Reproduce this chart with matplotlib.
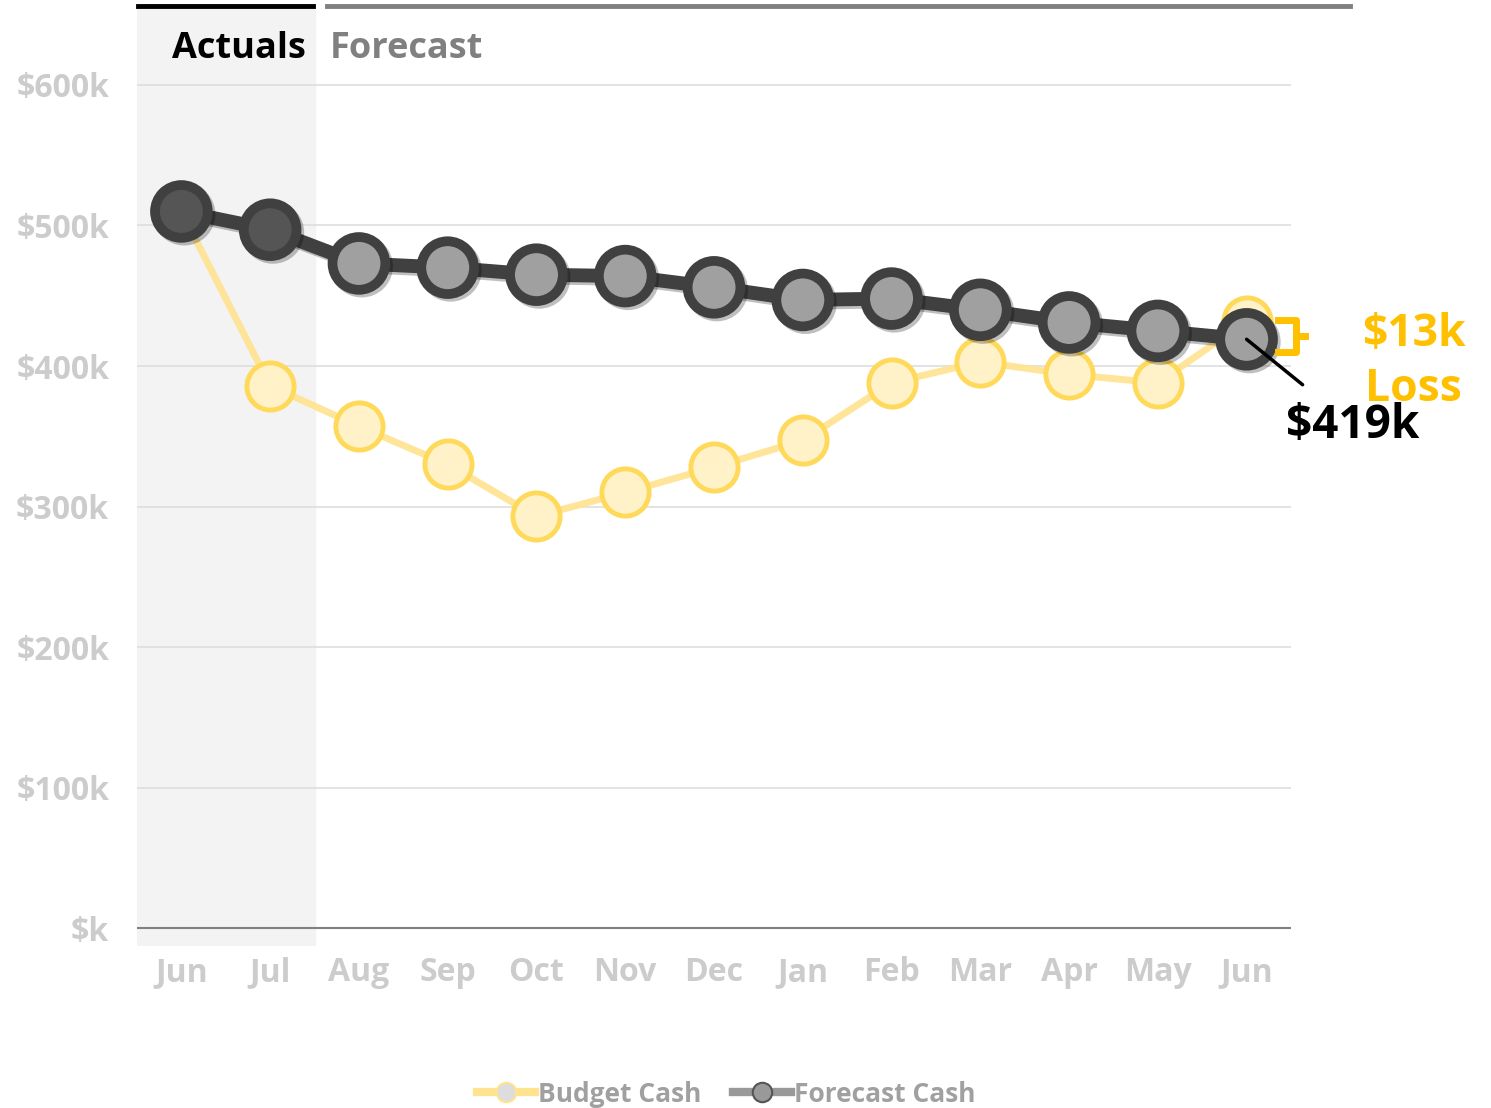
import matplotlib

matplotlib.use("Agg")

import matplotlib.pyplot as plt
import matplotlib.patheffects as pe
from matplotlib.lines import Line2D

plt.rcParams["font.family"] = ["Open Sans", "DejaVu Sans"]

months = ["Jun", "Jul", "Aug", "Sep", "Oct", "Nov", "Dec", "Jan", "Feb", "Mar", "Apr", "May", "Jun"]
budget_cash = [510, 386, 357, 330, 293, 310, 328, 347, 388, 403, 394, 388, 432]
forecast_cash = [510, 497, 473, 470, 465, 464, 456, 447, 448, 440, 431, 425, 419]
n_actual = 2
y_ticks = [0, 100, 200, 300, 400, 500, 600]
y_labels = ["$k", "$100k", "$200k", "$300k", "$400k", "$500k", "$600k"]

W, H = 1491, 1108
fig = plt.figure(figsize=(W / 100, H / 100), dpi=100)
ax = fig.add_axes([137 / W, 1 - 946 / H, (1291 - 137) / W, (946 - 8) / H])
ax.set_xlim(-0.5, 12.5)
ax.set_ylim(-12.8, 654.8)
for s in ax.spines.values():
    s.set_visible(False)

# actuals shading
ax.axvspan(-0.5, n_actual - 0.5, color="#f3f3f3", zorder=0)
for t in y_ticks[1:]:
    ax.axhline(t, color="#dedede", lw=1.2, zorder=1)
ax.axhline(0, color="#808080", lw=1.5, zorder=1)

ax.set_yticks(y_ticks)
ax.set_yticklabels(y_labels)
x = list(range(len(months)))
ax.set_xticks(x)
ax.set_xticklabels(months)
ax.tick_params(length=0, labelsize=23, labelcolor="#cccccc")
ax.tick_params(axis="y", pad=20)
ax.tick_params(axis="x", pad=7)
for lab in ax.get_xticklabels() + ax.get_yticklabels():
    lab.set_fontweight("bold")

shadow = [pe.SimpleLineShadow(offset=(2, -2), shadow_color="#000000", alpha=0.25), pe.Normal()]
ax.plot(x, budget_cash, color="#ffe38f", lw=5, zorder=2, alpha=0.9)
ax.plot(x, budget_cash, ls="none", marker="o", ms=34, mfc="#fff1c8", mec="#ffd95a", mew=3.5, zorder=3)
ax.plot(x, forecast_cash, color="#404040", lw=10, zorder=4, path_effects=shadow)
ax.plot(x[n_actual:], forecast_cash[n_actual:], ls="none", marker="o", ms=38, mfc="#a0a0a0",
        mec="#404040", mew=7, zorder=5, path_effects=shadow)
ax.plot(x[:n_actual], forecast_cash[:n_actual], ls="none", marker="o", ms=38, mfc="#555555",
        mec="#404040", mew=7, zorder=5, path_effects=shadow)

# end annotations
last = len(months) - 1
gap = budget_cash[-1] - forecast_cash[-1]
gold = "#ffc000"
mid = (budget_cash[-1] + forecast_cash[-1]) / 2
bx = last + 0.555
top, bot = budget_cash[-1] + 1, forecast_cash[-1] - 9
ax.plot([bx - 0.2, bx, bx, bx - 0.2], [top, top, bot, bot], color=gold, lw=5, clip_on=False,
        zorder=6, solid_joinstyle="round")
ax.plot([bx, bx + 0.1], [(top + bot) / 2] * 2, color=gold, lw=5, clip_on=False, zorder=6)
ax.text(last + 1.88, mid + 13, f"${gap}k\nLoss", color=gold, fontsize=32, fontweight="bold",
        ha="center", va="top", linespacing=1.3, clip_on=False)
ax.annotate(f"${forecast_cash[-1]}k", xy=(last, forecast_cash[-1]), xytext=(last + 1.19, 358),
            fontsize=33, fontweight="bold", color="black", ha="center", va="center",
            arrowprops=dict(arrowstyle="-", color="black", lw=2.5, shrinkA=16, shrinkB=0),
            zorder=7, annotation_clip=False)

# header bars and labels
fig.add_artist(Line2D([138 / W, 313 / W], [1 - 6 / H] * 2, color="black", lw=3.5))
fig.add_artist(Line2D([327 / W, 1350 / W], [1 - 6 / H] * 2, color="#808080", lw=3.5))
fig.text(306 / W, 1 - 49 / H, "Actuals", ha="right", va="center", fontsize=26, fontweight="bold",
         color="black")
fig.text(330 / W, 1 - 49 / H, "Forecast", ha="left", va="center", fontsize=26, fontweight="bold",
         color="#808080")

handles = [
    Line2D([], [], color="#ffe38f", lw=6, marker="o", ms=14, mfc="#dddddd", mec="#ffe38f", mew=1.5),
    Line2D([], [], color="#999999", lw=6, marker="o", ms=14, mfc="#999999", mec="#555555", mew=1.5),
]
leg = fig.legend(handles, ["Budget Cash", "Forecast Cash"], loc="center", bbox_to_anchor=(0.487, 1 - 1094 / H),
                 ncol=2, frameon=False, handlelength=2.2, handletextpad=0.1, columnspacing=1.2,
                 prop={"size": 19, "weight": "bold"})
for t in leg.get_texts():
    t.set_color("#a0a0a0")

fig.savefig("out.png", dpi=100)
